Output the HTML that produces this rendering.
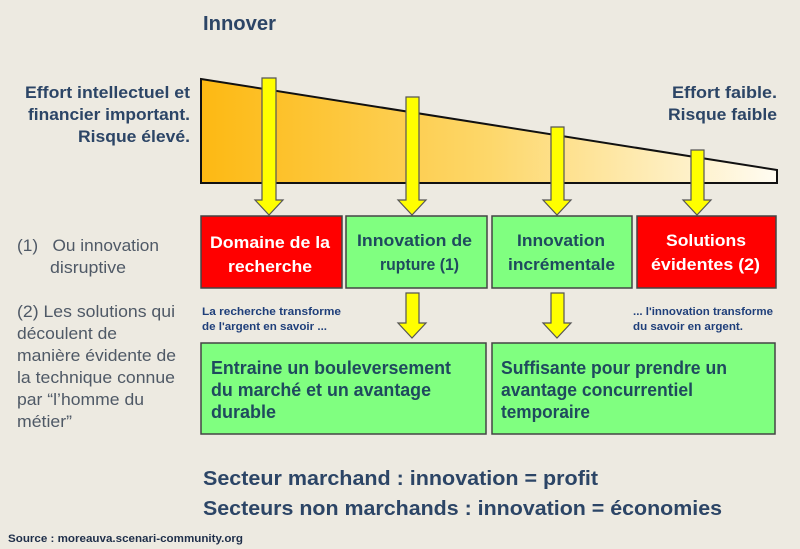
<!DOCTYPE html>
<html><head><meta charset="utf-8"><style>
html,body{margin:0;padding:0;background:#edeae1;}
svg{display:block;}
text{font-family:"Liberation Sans",Arial,sans-serif;}
</style></head><body>
<svg width="800" height="549" viewBox="0 0 800 549" xmlns="http://www.w3.org/2000/svg">
<defs>
<linearGradient id="g" x1="0" y1="0" x2="1" y2="0">
<stop offset="0" stop-color="#fdb913"/>
<stop offset="0.5" stop-color="#fdd76a"/>
<stop offset="1" stop-color="#fffcf2"/>
</linearGradient>
</defs>
<rect width="800" height="549" fill="#edeae1"/>
<text x="203" y="30" font-size="20" font-weight="bold" fill="#2c4566" textLength="73" lengthAdjust="spacingAndGlyphs">Innover</text>

<g font-size="17" font-weight="bold" fill="#2c4566" lengthAdjust="spacingAndGlyphs">
<text x="25" y="98" textLength="165" lengthAdjust="spacingAndGlyphs">Effort intellectuel et</text>
<text x="28" y="120" textLength="162" lengthAdjust="spacingAndGlyphs">financier important.</text>
<text x="78" y="142" textLength="112" lengthAdjust="spacingAndGlyphs">Risque élevé.</text>
<text x="672" y="98" textLength="105" lengthAdjust="spacingAndGlyphs">Effort faible.</text>
<text x="668" y="120" textLength="109" lengthAdjust="spacingAndGlyphs">Risque faible</text>
</g>

<polygon points="201,79 777,170 777,183 201,183" fill="url(#g)" stroke="#111" stroke-width="2"/>

<g fill="#ffff00" stroke="#555" stroke-width="1.2">
<polygon points="262,78 276,78 276,200 283,200 269,215 255,200 262,200"/>
<polygon points="406,97 419,97 419,200 426,200 412,215 398,200 406,200"/>
<polygon points="551,127 564,127 564,200 571,200 557,215 543,200 551,200"/>
<polygon points="691,150 704,150 704,200 711,200 697,215 683,200 691,200"/>
<polygon points="406,293 419,293 419,323 426,323 412,338 398,323 406,323"/>
<polygon points="551,293 564,293 564,323 571,323 557,338 543,323 551,323"/>
</g>

<g stroke="#444" stroke-width="1.5">
<rect x="201" y="216" width="141" height="72" fill="#ff0000"/>
<rect x="346" y="216" width="141" height="72" fill="#80ff80"/>
<rect x="492" y="216" width="140" height="72" fill="#80ff80"/>
<rect x="637" y="216" width="139" height="72" fill="#ff0000"/>
<rect x="201" y="343" width="285" height="91" fill="#80ff80"/>
<rect x="492" y="343" width="283" height="91" fill="#80ff80"/>
</g>

<g font-size="17" font-weight="bold">
<text x="210" y="248" fill="#fff" textLength="120" lengthAdjust="spacingAndGlyphs">Domaine de la</text>
<text x="228" y="272" fill="#fff" textLength="84" lengthAdjust="spacingAndGlyphs">recherche</text>
<text x="357" y="246" fill="#1f4a5e" textLength="115" lengthAdjust="spacingAndGlyphs">Innovation de</text>
<text x="380" y="270" fill="#1f4a5e" textLength="79" lengthAdjust="spacingAndGlyphs">rupture (1)</text>
<text x="517" y="246" fill="#1f4a5e" textLength="88" lengthAdjust="spacingAndGlyphs">Innovation</text>
<text x="508" y="270" fill="#1f4a5e" textLength="107" lengthAdjust="spacingAndGlyphs">incrémentale</text>
<text x="666" y="246" fill="#fff" textLength="80" lengthAdjust="spacingAndGlyphs">Solutions</text>
<text x="651" y="270" fill="#fff" textLength="109" lengthAdjust="spacingAndGlyphs">évidentes (2)</text>
</g>

<g font-size="11" font-weight="bold" fill="#1f3f7a">
<text x="202" y="315" textLength="139" lengthAdjust="spacingAndGlyphs">La recherche transforme</text>
<text x="202" y="330" textLength="125" lengthAdjust="spacingAndGlyphs">de l'argent en savoir ...</text>
<text x="633" y="315" textLength="140" lengthAdjust="spacingAndGlyphs">... l'innovation transforme</text>
<text x="633" y="330" textLength="110" lengthAdjust="spacingAndGlyphs">du savoir en argent.</text>
</g>

<g font-size="18" font-weight="bold" fill="#1f4a5e">
<text x="211" y="374" textLength="240" lengthAdjust="spacingAndGlyphs">Entraine un bouleversement</text>
<text x="211" y="396" textLength="220" lengthAdjust="spacingAndGlyphs">du marché et un avantage</text>
<text x="211" y="418" textLength="65" lengthAdjust="spacingAndGlyphs">durable</text>
<text x="501" y="374" textLength="226" lengthAdjust="spacingAndGlyphs">Suffisante pour prendre un</text>
<text x="501" y="396" textLength="192" lengthAdjust="spacingAndGlyphs">avantage concurrentiel</text>
<text x="501" y="418" textLength="89" lengthAdjust="spacingAndGlyphs">temporaire</text>
</g>

<g font-size="17" fill="#4f5966">
<text x="17" y="251" textLength="142" lengthAdjust="spacingAndGlyphs" xml:space="preserve">(1)   Ou innovation</text>
<text x="50" y="273" textLength="76" lengthAdjust="spacingAndGlyphs">disruptive</text>
<text x="17" y="317" textLength="158" lengthAdjust="spacingAndGlyphs">(2) Les solutions qui</text>
<text x="17" y="339" textLength="100" lengthAdjust="spacingAndGlyphs">découlent de</text>
<text x="17" y="361" textLength="159" lengthAdjust="spacingAndGlyphs">manière évidente de</text>
<text x="17" y="383" textLength="158" lengthAdjust="spacingAndGlyphs">la technique connue</text>
<text x="17" y="405" textLength="127" lengthAdjust="spacingAndGlyphs">par “l’homme du</text>
<text x="17" y="427" textLength="55" lengthAdjust="spacingAndGlyphs">métier”</text>
</g>

<g font-size="20" font-weight="bold" fill="#2c4566">
<text x="203" y="485" textLength="395" lengthAdjust="spacingAndGlyphs">Secteur marchand : innovation = profit</text>
<text x="203" y="515" textLength="519" lengthAdjust="spacingAndGlyphs">Secteurs non marchands : innovation = économies</text>
</g>
<text x="8" y="542" font-size="11" font-weight="bold" fill="#1f2f4a" textLength="235" lengthAdjust="spacingAndGlyphs">Source : moreauva.scenari-community.org</text>
</svg>
</body></html>
